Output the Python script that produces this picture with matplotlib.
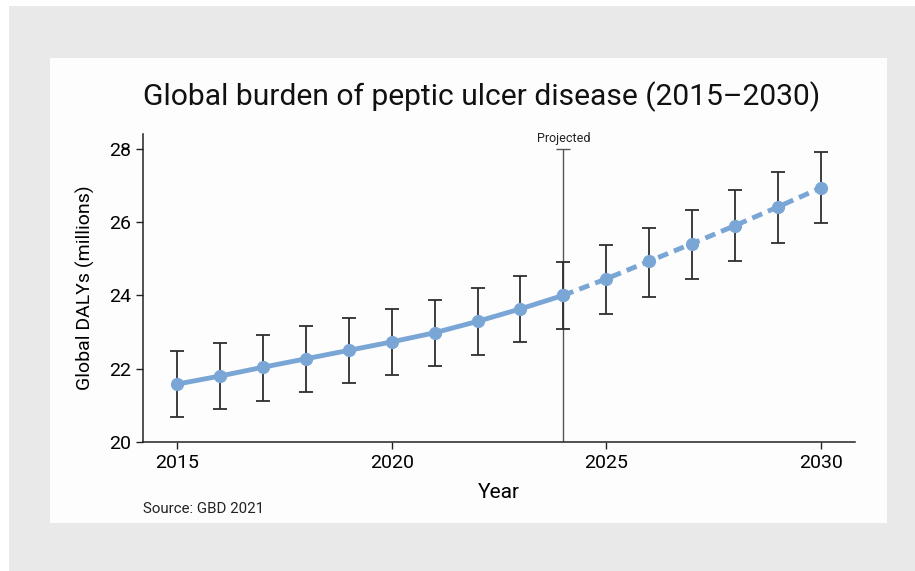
import numpy as np
import matplotlib
matplotlib.use("Agg")
import matplotlib.pyplot as plt
from matplotlib.patches import Rectangle

plt.rcParams["font.family"] = ["Roboto", "DejaVu Sans"]

# data (millions of DALYs)
years = np.arange(2015, 2031)
dalys = [21.58, 21.80, 22.04, 22.27, 22.50, 22.73, 22.98, 23.29,
         23.63, 24.00, 24.45, 24.93, 25.41, 25.90, 26.41, 26.93]
lower = [20.69, 20.91, 21.12, 21.36, 21.60, 21.82, 22.07, 22.38,
         22.73, 23.09, 23.50, 23.96, 24.45, 24.95, 25.44, 25.97]
upper = [22.47, 22.69, 22.92, 23.16, 23.39, 23.63, 23.88, 24.19,
         24.54, 24.92, 25.38, 25.84, 26.34, 26.86, 27.37, 27.90]
proj_year = 2024
proj_top = 28
x_ticks = [2015, 2020, 2025, 2030]
y_ticks = [20, 22, 24, 26, 28]

line_col = "#7aa6d6"
dalys = np.array(dalys)
err = np.array([dalys - np.array(lower), np.array(upper) - dalys])
hist = years <= proj_year
proj = years >= proj_year

fig = plt.figure(figsize=(9.15, 5.71), dpi=100, facecolor="white")
# grey backdrop + white card
fig.patches.append(Rectangle((9 / 915, 0), 1, 1 - 6 / 571, transform=fig.transFigure,
                             facecolor="#e9e9e9", edgecolor="none", zorder=-20))
fig.patches.append(Rectangle((50 / 915, 1 - 523 / 571), 837 / 915, 465 / 571,
                             transform=fig.transFigure, facecolor="#fdfdfd",
                             edgecolor="none", zorder=-10))

ax = fig.add_axes([143 / 915, 1 - 442 / 571, 712 / 915, 308 / 571])
ax.set_facecolor("none")

ax.errorbar(years, dalys, yerr=err, fmt="none", ecolor="#2e2e2e",
            elinewidth=1.3, capsize=5, capthick=1.3, zorder=2)
ax.plot(years[hist], dalys[hist], color=line_col, lw=3.5, marker="o",
        markersize=8.5, zorder=3, solid_capstyle="round")
dashed, = ax.plot(years[proj], dalys[proj], color=line_col, lw=3.5, marker="o",
                  markersize=8.5, zorder=3)
dashed.set_dashes((2.2, 1.3))

ax.vlines(proj_year, 20, proj_top, color="#555555", lw=1.0, zorder=1)
ax.plot([proj_year], [proj_top], marker="_", markersize=10, color="#555555",
        markeredgewidth=1.0, zorder=1)
ax.text(proj_year, proj_top + 0.1, "Projected", ha="center", va="bottom",
        fontsize=9, color="#222222")

ax.set_xlim(2014.2, 2030.8)
ax.set_ylim(20, 28.4)
ax.set_xticks(x_ticks)
ax.set_yticks(y_ticks)
ax.tick_params(labelsize=14, length=5, width=1, color="#222222")
for s in ["top", "right"]:
    ax.spines[s].set_visible(False)
for s in ["left", "bottom"]:
    ax.spines[s].set_color("#222222")
    ax.spines[s].set_linewidth(1.1)

ax.set_xlabel("Year", fontsize=15, labelpad=8)
ax.set_ylabel("Global DALYs (millions)", fontsize=14, labelpad=10)

fig.text(0.526, 0.830, "Global burden of peptic ulcer disease (2015\u20132030)",
         ha="center", va="center", fontsize=21.6, color="#111111")
fig.text(143 / 915, 1 - 509 / 571, "Source: GBD 2021", ha="left", va="center",
         fontsize=10.8, color="#222222")

fig.savefig("out.png", dpi=100, facecolor=fig.get_facecolor())
